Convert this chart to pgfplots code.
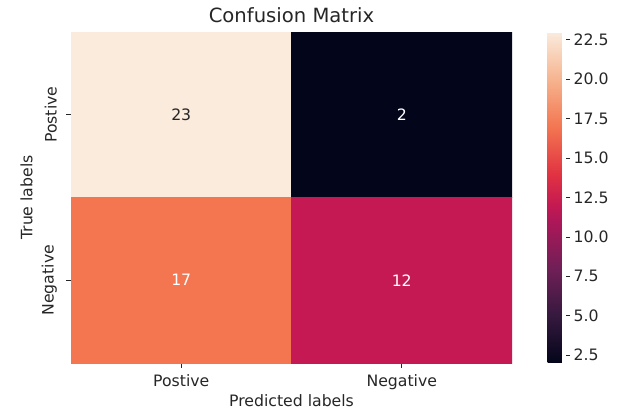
\documentclass[border=0pt]{standalone}
\usepackage{pgfplots}
\pgfplotsset{compat=1.18}
\usepackage{fontspec}
\setmainfont{DejaVu Sans}
\newcommand{\tfont}{\fontsize{15.7}{18}\selectfont}
\begin{document}
\begin{tikzpicture}[x=1pt,y=1pt]
\path[use as bounding box] (0,0) rectangle (624,412);
\begin{axis}[
 at={(71pt,49pt)}, anchor=south west,
 width=441pt, height=331pt, scale only axis,
 xmin=-0.5, xmax=1.5, ymin=-0.5, ymax=1.5, y dir=reverse,
 enlargelimits=false,
 xtick={0,1}, ytick={0,1},
 xtick pos=bottom, ytick pos=left,
 xticklabels={Postive,Negative}, yticklabels={Postive,Negative},
 yticklabel style={rotate=90, anchor=south},
 xticklabel shift=4pt, yticklabel shift=6pt,
 axis line style={draw=none},
 tick align=outside, major tick length=4.5pt,
 tick style={black!85, line width=0.8pt},
 ticklabel style={font=\tfont, text=black!85},
 label style={font=\tfont, text=black!85},
 xlabel={Predicted labels}, ylabel={True labels},
 xlabel style={yshift=2.5pt},
 ylabel style={at={(axis description cs:-0.079,0.5)}, anchor=south, rotate=0},
 title={Confusion Matrix},
 title style={font=\fontsize{19.6}{22}\selectfont, text=black!85, at={(0.5,1)}, anchor=south, yshift=0pt},
 colormap={rocket}{rgb255(0pt)=(3,5,26) rgb255(3pt)=(53,25,62) rgb255(6pt)=(112,31,87) rgb255(9pt)=(173,23,89) rgb255(10pt)=(196,25,82) rgb255(12pt)=(225,51,66) rgb255(15pt)=(243,118,81) rgb255(18pt)=(246,180,143) rgb255(21pt)=(250,235,221)},
 point meta min=2, point meta max=23,
 colorbar,
 colorbar style={
   at={(parent axis.north east)}, anchor=north west, xshift=27pt,
   width=18pt,
   axis line style={draw=none},
   ytick={2.5,5,...,22.5},
   ytick pos=right, yticklabel pos=right,
   yticklabel={\pgfmathprintnumber[fixed,fixed zerofill,precision=1]{\tick}},
   tick align=outside, major tick length=4.5pt,
   tick style={black!85, line width=0.8pt},
   ticklabel style={font=\tfont, text=black!85},
   /pgf/number format/assume math mode=true,
 },
 /pgf/number format/assume math mode=true,
]
\addplot[matrix plot*, mesh/cols=2, point meta=explicit] table[meta=c] {
x y c
0 0 23
1 0 2
0 1 17
1 1 12
};
\addplot[draw=none, mark=none, nodes near coords, point meta=explicit symbolic,
  nodes near coords style={anchor=center, text=black!85, font=\tfont}] table[meta=c] {
x y c
0 0 23
};
\addplot[draw=none, mark=none, nodes near coords, point meta=explicit symbolic,
  nodes near coords style={anchor=center, text=white, font=\tfont}] table[meta=c] {
x y c
1 0 2
0 1 17
1 1 12
};
\end{axis}
\end{tikzpicture}
\end{document}
